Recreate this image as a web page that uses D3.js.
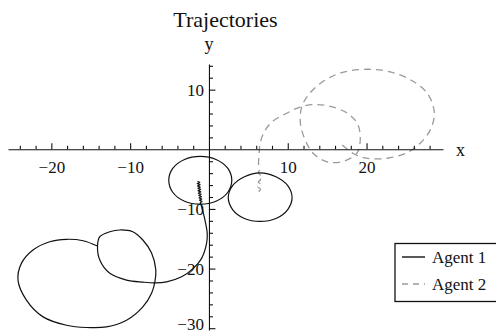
<!DOCTYPE html>
<html>
<head>
<meta charset="utf-8">
<script src="https://cdn.jsdelivr.net/npm/d3@7"></script>
<style>
  html, body { margin: 0; padding: 0; background: #fff; }
  svg { display: block; font-family: "Liberation Serif", "Times New Roman", serif; }
</style>
</head>
<body>
<div id="chart"></div>
<script>
const title       = 'Trajectories';
const seriesNames = ['Agent 1', 'Agent 2'];
const xMajorTicks = [-20, -10, 10, 20];
const yMajorTicks = [-30, -20, -10, 10];
const xMinorTicks = [-24,-22,-18,-16,-14,-12,-8,-6,-4,-2,2,4,6,8,12,14,16,18,22,24,26,28];
const yMinorTicks = [-28,-26,-24,-22,-18,-16,-14,-12,-8,-6,-4,-2,2,4,6,8,12,14];

// agent 1: jittery start, tail down the y axis, then two loops
const agent1Track = [
  [-1.45,-5.35],[-1.15,-5.55],[-1.5,-5.75],[-1.12,-5.95],[-1.45,-6.15],[-1.1,-6.35],
  [-1.42,-6.55],[-1.05,-6.75],[-1.4,-6.95],[-1.02,-7.15],[-1.35,-7.35],[-0.98,-7.55],
  [-1.3,-7.75],[-0.95,-7.95],[-1.25,-8.15],[-0.9,-8.35],[-1.2,-8.55],[-0.88,-8.75],
  [-1.1,-8.95],[-1.0,-9.3],
  [-0.51,-11.85],[-0.22,-14.08],[-0.29,-15.71],[-0.93,-18.29],[-1.99,-19.97],
  [-3.47,-21.38],[-5.37,-22.22],[-6.86,-22.39],[-8.35,-22.27],[-10.46,-21.93],
  [-12.58,-20.8],[-13.85,-18.57],[-14.14,-16.22],
  [-13.85,-14.66],[-12.58,-13.82],[-11.31,-13.53],[-9.66,-13.82],[-8.39,-15.21],
  [-7.28,-17.39],[-6.74,-20.25],[-6.86,-22.22],[-7.28,-24.12],[-8.39,-26.42],
  [-10.46,-28.66],[-13.0,-29.78],[-15.54,-29.88],[-18.08,-29.5],[-21.05,-28.1],
  [-23.16,-25.29],[-24.23,-21.93],[-23.8,-19.13],[-22.33,-16.89],[-20.2,-15.5],
  [-18.08,-15.09],[-15.97,-15.33],[-14.14,-16.22]
];
// agent 1: closed loop around the origin
const agent1LoopA = [
  [2.9,-5.2],[2.4,-3.2],[0.9,-1.7],[-1.1,-1.2],[-3.1,-1.7],[-4.6,-3.2],
  [-5.1,-5.2],[-4.6,-7.2],[-3.1,-8.7],[-1.1,-9.2],[0.9,-8.7],[2.4,-7.2]
];
// agent 1: closed loop to the right of it
const agent1LoopB = [
  [10.55,-8.1],[10.0,-6.1],[8.5,-4.6],[6.5,-3.95],[4.5,-4.6],[3.0,-6.1],
  [2.45,-8.1],[3.0,-10.1],[4.5,-11.6],[6.5,-12.1],[8.5,-11.6],[10.0,-10.1]
];
// agent 2: jittery start, then small loop and large loop
const agent2Track = [
  [6.3,-7.1],[6.55,-6.7],[6.2,-6.3],[6.6,-5.9],[6.25,-5.5],[6.55,-5.1],[6.2,-4.7],
  [6.5,-4.3],[6.25,-3.9],[6.45,-3.4],[6.3,-2.7],
  [6.35,-1.0],[6.5,1.0],[7.0,2.9],[8.0,4.6],[9.8,6.0],[11.8,7.2],
  [13.7,7.5],[15.4,7.2],[17.5,6.1],[18.8,4.4],[19.2,2.15],[18.8,-0.6],[17.1,-2.0],
  [15.0,-2.1],[13.25,-0.7],[12.2,1.6],[11.6,4.4],[11.8,7.2],
  [12.8,9.4],[14.5,11.4],[16.7,12.8],[19.6,13.4],[22.6,13.1],[25.5,11.7],[27.7,9.4],
  [28.6,6.1],[28.1,3.3],[26.8,1.0],[25.1,-0.6],[22.6,-1.5],[20.0,-1.5],[18.3,-0.7],
  [16.7,1.0]
];

const W = 496, H = 335;
const ink   = '#111';
const grey  = '#9a9a9a';

const x = d3.scaleLinear().domain([-25.5, 29.7]).range([8, 443]);
const y = d3.scaleLinear().domain([-30.3, 14.3]).range([330, 64]);

const svg = d3.select('#chart').append('svg')
  .attr('width', W).attr('height', H)
  .attr('viewBox', `0 0 ${W} ${H}`);

svg.append('rect').attr('width', W).attr('height', H).attr('fill', '#fff');

const fmt = d => d < 0 ? '\u2212' + Math.abs(d) : String(d);

// curves
const line = d3.line().x(d => x(d[0])).y(d => y(d[1])).curve(d3.curveCatmullRom.alpha(0.5));
const loop = d3.line().x(d => x(d[0])).y(d => y(d[1])).curve(d3.curveCatmullRomClosed.alpha(0.5));

const gCurves = svg.append('g').attr('fill', 'none');
gCurves.append('path').attr('d', line(agent2Track))
  .attr('stroke', grey).attr('stroke-width', 1.3).attr('stroke-dasharray', '7,5');
[agent1LoopA, agent1LoopB].forEach(l => {
  gCurves.append('path').attr('d', loop(l)).attr('stroke', ink).attr('stroke-width', 1.2);
});
gCurves.append('path').attr('d', line(agent1Track))
  .attr('stroke', ink).attr('stroke-width', 1.2);

// axes through the origin
const styleAxis = g => {
  g.selectAll('path.domain').attr('stroke', ink).attr('stroke-width', 1.1);
  g.selectAll('.tick line').attr('stroke', ink).attr('stroke-width', 1.1);
  g.selectAll('.tick text').attr('fill', ink)
    .attr('font-family', '"Liberation Serif","Times New Roman",serif').attr('font-size', 17);
};

const gx = svg.append('g').attr('transform', `translate(0,${y(0)})`);
gx.append('g').call(d3.axisBottom(x).tickValues(xMinorTicks).tickSize(-3.5).tickSizeOuter(0).tickFormat(''))
  .call(styleAxis);
gx.append('g').call(d3.axisBottom(x).tickValues(xMajorTicks).tickSize(-6).tickSizeOuter(0)
    .tickPadding(12).tickFormat(fmt))
  .call(styleAxis).call(g => g.select('.domain').remove());

const gy = svg.append('g').attr('transform', `translate(${x(0)},0)`);
gy.append('g').call(d3.axisLeft(y).tickValues(yMinorTicks).tickSize(-4).tickSizeOuter(0).tickFormat(''))
  .call(styleAxis);
gy.append('g').call(d3.axisLeft(y).tickValues(yMajorTicks).tickSize(-6.5).tickSizeOuter(0)
    .tickPadding(5).tickFormat(fmt))
  .call(styleAxis).call(g => g.select('.domain').remove())
  // lowest label sits a little higher so it stays inside the frame
  .call(g => g.selectAll('.tick text').filter(d => d === -30).attr('dy', '0.1em'));

// axis names and title
svg.append('text').attr('x', 456).attr('y', y(0) + 7)
  .attr('font-size', 18).attr('fill', ink).text('x');
svg.append('text').attr('x', x(0)).attr('y', 50).attr('text-anchor', 'middle')
  .attr('font-size', 18).attr('fill', ink).text('y');
svg.append('text').attr('x', (8 + 443) / 2).attr('y', 27).attr('text-anchor', 'middle')
  .attr('font-size', 22).attr('fill', ink).text(title);

// legend
const lg = svg.append('g').attr('transform', 'translate(395,243.5)');
lg.append('rect').attr('width', 130).attr('height', 58)
  .attr('fill', '#fff').attr('stroke', ink).attr('stroke-width', 1.3);
seriesNames.forEach((name, i) => {
  const yy = 13.5 + i * 27;
  lg.append('line').attr('x1', 7).attr('x2', 30).attr('y1', yy).attr('y2', yy)
    .attr('stroke', i === 0 ? ink : grey).attr('stroke-width', i === 0 ? 1.4 : 1.3)
    .attr('stroke-dasharray', i === 0 ? null : '6,5');
  lg.append('text').attr('x', 37).attr('y', yy + 5.5)
    .attr('font-size', 17).attr('fill', ink).text(name);
});
</script>
</body>
</html>
